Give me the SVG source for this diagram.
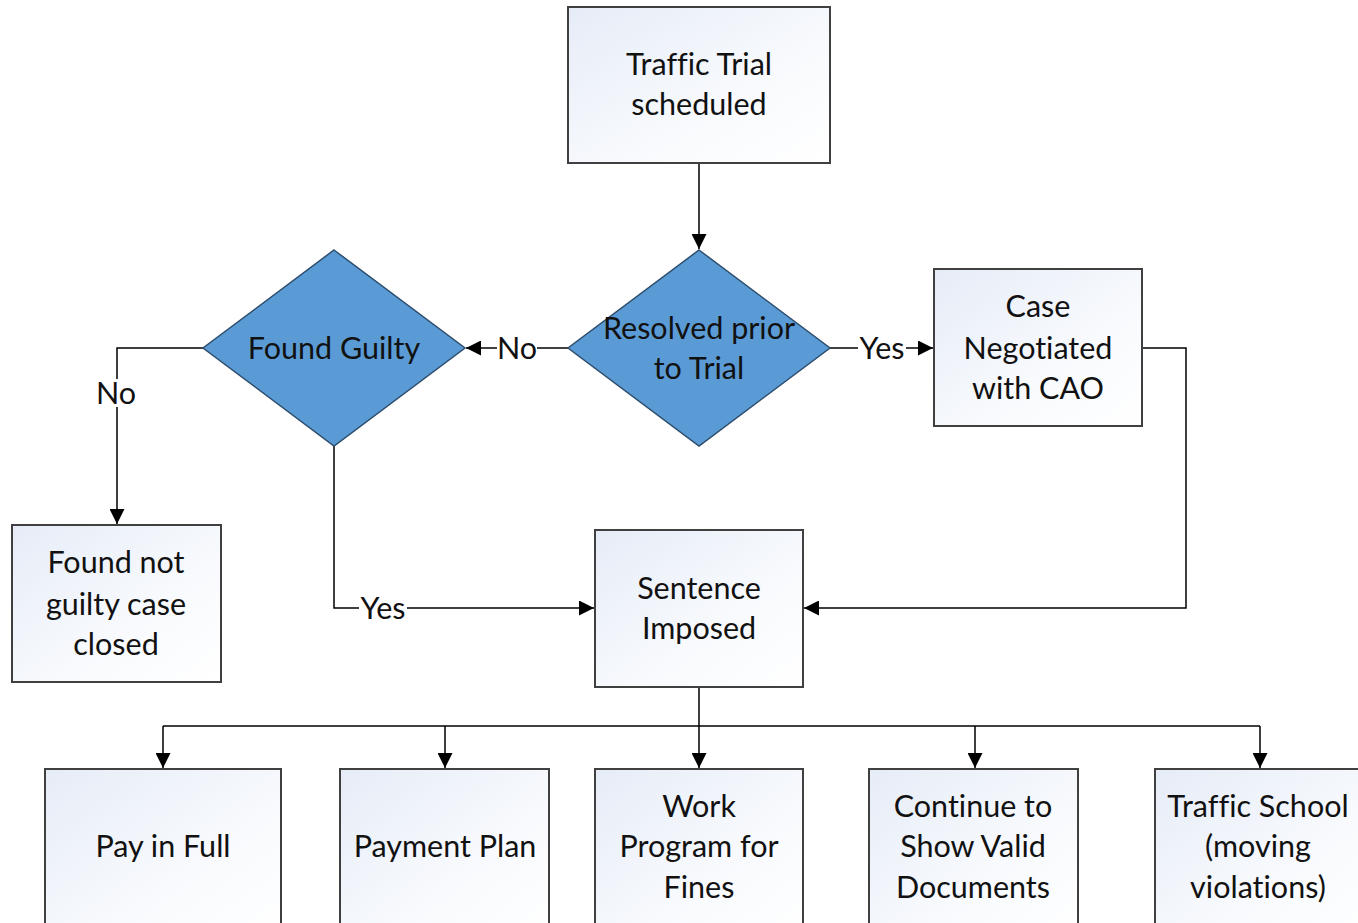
<svg xmlns="http://www.w3.org/2000/svg" width="1358" height="923" viewBox="0 0 1358 923">
<defs>
<linearGradient id="g" x1="0" y1="0" x2="1" y2="1">
<stop offset="0" stop-color="#e6ecf7"/>
<stop offset="0.6" stop-color="#f8fafd"/>
<stop offset="1" stop-color="#ffffff"/>
</linearGradient>
<marker id="arr" viewBox="0 0 10 10" refX="10" refY="5" markerWidth="15" markerHeight="15" markerUnits="userSpaceOnUse" orient="auto">
<path d="M0,0 L10,5 L0,10 z" fill="#000"/>
</marker>
</defs>
<style>
.box{fill:url(#g);stroke:#404040;stroke-width:2}
.dia{fill:#5b9bd5;stroke:#2e4e6e;stroke-width:1.5}
.t{font-family:Lato,"Open Sans",sans-serif;font-size:30.5px;fill:#111;text-anchor:middle;font-variant-ligatures:none;font-feature-settings:"liga" 0}
.c{fill:none;stroke:#000;stroke-width:1.5}
.lbl{fill:#fff}
</style>
<rect width="1358" height="923" fill="#fff"/>
<g id="connectors">
<path class="c" d="M699,163 V249" marker-end="url(#arr)"/>
<path class="c" d="M568,348 H466" marker-end="url(#arr)"/>
<path class="c" d="M830,348 H933" marker-end="url(#arr)"/>
<path class="c" d="M203,348 H117 V524" marker-end="url(#arr)"/>
<path class="c" d="M334,446 V608 H594" marker-end="url(#arr)"/>
<path class="c" d="M1142,348 H1186 V608 H804" marker-end="url(#arr)"/>
<path class="c" d="M699,687 V726"/>
<path class="c" d="M163,726 H1260"/>
<path class="c" d="M163,726 V768" marker-end="url(#arr)"/>
<path class="c" d="M445,726 V768" marker-end="url(#arr)"/>
<path class="c" d="M699,726 V768" marker-end="url(#arr)"/>
<path class="c" d="M975,726 V768" marker-end="url(#arr)"/>
<path class="c" d="M1260,726 V768" marker-end="url(#arr)"/>
<rect class="lbl" x="497" y="334" width="40" height="28"/>
<text class="t" x="517" y="359">No</text>
<rect class="lbl" x="858" y="334" width="48" height="28"/>
<text class="t" x="882" y="359">Yes</text>
<rect class="lbl" x="96" y="379" width="42" height="28"/>
<text class="t" x="116" y="404">No</text>
<rect class="lbl" x="359" y="594" width="48" height="28"/>
<text class="t" x="383" y="619">Yes</text>
</g>
<g id="n1">
<rect class="box" x="568" y="7" width="262" height="156"/>
<text class="t" x="699" y="75">Traffic Trial</text>
<text class="t" x="699" y="115">scheduled</text>
</g>
<g id="n2">
<polygon class="dia" points="699,250 830,348 699,446 568,348"/>
<text class="t" x="699" y="339">Resolved prior</text>
<text class="t" x="699" y="379">to Trial</text>
</g>
<g id="n3">
<polygon class="dia" points="334,250 465,348 334,446 203,348"/>
<text class="t" x="334" y="359">Found Guilty</text>
</g>
<g id="n4">
<rect class="box" x="934" y="269" width="208" height="157"/>
<text class="t" x="1038" y="317">Case</text>
<text class="t" x="1038" y="359">Negotiated</text>
<text class="t" x="1038" y="399">with CAO</text>
</g>
<g id="n5">
<rect class="box" x="12" y="525" width="209" height="157"/>
<text class="t" x="116" y="573">Found not</text>
<text class="t" x="116" y="615">guilty case</text>
<text class="t" x="116" y="655">closed</text>
</g>
<g id="n6">
<rect class="box" x="595" y="530" width="208" height="157"/>
<text class="t" x="699" y="599">Sentence</text>
<text class="t" x="699" y="639">Imposed</text>
</g>
<g id="n7">
<rect class="box" x="45" y="769" width="236" height="170"/>
<text class="t" x="163" y="857">Pay in Full</text>
</g>
<g id="n8">
<rect class="box" x="340" y="769" width="209" height="170"/>
<text class="t" x="445" y="857">Payment Plan</text>
</g>
<g id="n9">
<rect class="box" x="595" y="769" width="208" height="170"/>
<text class="t" x="699" y="817">Work</text>
<text class="t" x="699" y="857">Program for</text>
<text class="t" x="699" y="898">Fines</text>
</g>
<g id="n10">
<rect class="box" x="869" y="769" width="209" height="170"/>
<text class="t" x="973" y="817">Continue to</text>
<text class="t" x="973" y="857">Show Valid</text>
<text class="t" x="973" y="898">Documents</text>
</g>
<g id="n11">
<rect class="box" x="1155" y="769" width="220" height="170"/>
<text class="t" x="1258" y="817">Traffic School</text>
<text class="t" x="1258" y="857">(moving</text>
<text class="t" x="1258" y="898">violations)</text>
</g>
</svg>
